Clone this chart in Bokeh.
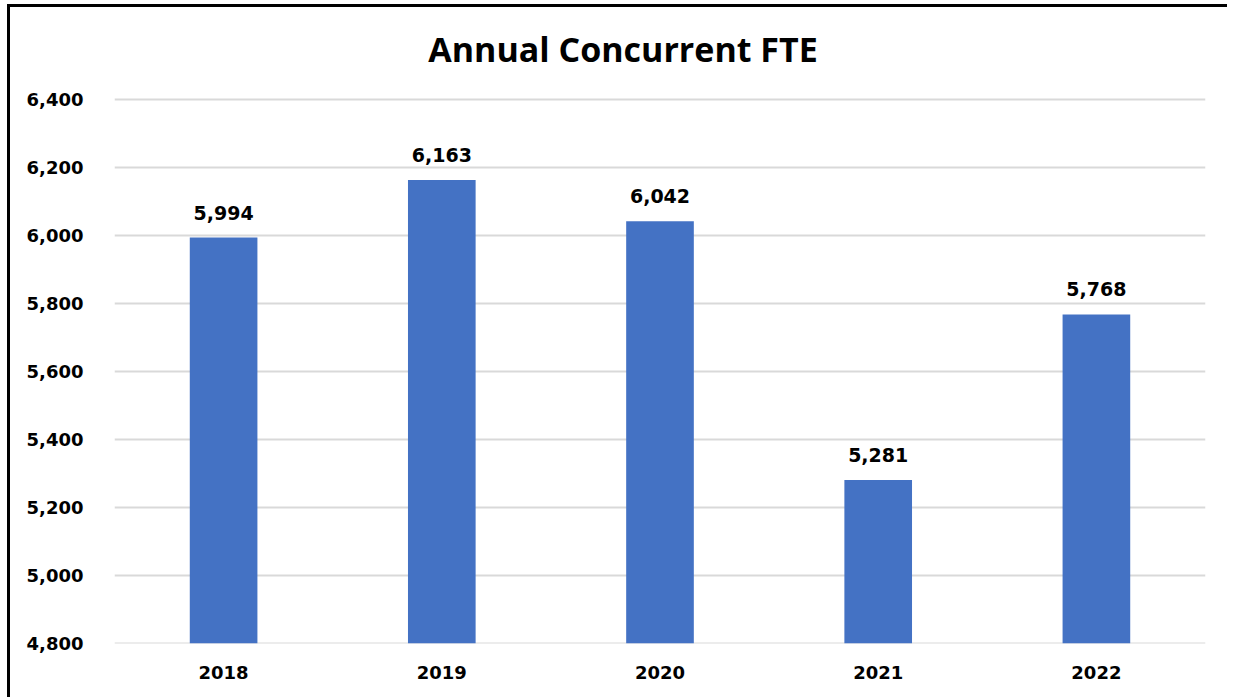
from bokeh.plotting import figure
from bokeh.models import ColumnDataSource, FixedTicker, NumeralTickFormatter, LabelSet, Label, Range1d, FactorRange
from bokeh.core.properties import value
from bokeh.embed import file_html
from bokeh.resources import INLINE

years = ["2018", "2019", "2020", "2021", "2022"]
fte = [5994, 6163, 6042, 5281, 5768]
labels = ["5,994", "6,163", "6,042", "5,281", "5,768"]
y_ticks = [4800, 5000, 5200, 5400, 5600, 5800, 6000, 6200, 6400]
title_text = "Annual Concurrent FTE"

# layout: frame spans the full canvas height above the x axis; the axis range
# is extended above the top tick so the title can sit inside the frame
H, BOTTOM, TOP_GAP = 693, 57, 92
y_lo, y_hi = y_ticks[0], y_ticks[-1]
frame_h = H - BOTTOM
y_end = y_lo + (y_hi - y_lo) * frame_h / (frame_h - TOP_GAP)

src = ColumnDataSource(dict(year=years, fte=fte, label=labels))

p = figure(x_range=FactorRange(*years), y_range=Range1d(y_lo, y_end),
           width=1220, height=H, output_backend="svg", toolbar_location=None,
           min_border_left=104, min_border_right=25, min_border_top=0, min_border_bottom=BOTTOM)
p.styles = {"border-left": "3px solid black", "border-top": "3px solid black",
            "margin-left": "7px", "margin-top": "4px"}
p.outline_line_color = None
p.background_fill_color = "white"
p.border_fill_color = "white"

p.hspan(y=y_ticks, line_color="#d9d9d9", line_width=2)

p.vbar(x="year", top="fte", bottom=y_lo, width=0.31, source=src,
       fill_color="#4472C4", line_color=None)

p.xgrid.grid_line_color = None
p.ygrid.grid_line_color = None

p.yaxis.ticker = FixedTicker(ticks=y_ticks)
p.yaxis.formatter = NumeralTickFormatter(format="0,0")
p.yaxis.axis_line_color = None
p.yaxis.major_tick_line_color = None
p.yaxis.minor_tick_line_color = None
p.yaxis.major_label_text_font = "DejaVu Sans"
p.yaxis.major_label_text_font_style = "bold"
p.yaxis.major_label_text_font_size = "18px"
p.yaxis.major_label_text_color = "black"
p.yaxis.major_label_standoff = 25

p.xaxis.axis_line_color = None
p.xaxis.major_tick_line_color = None
p.xaxis.minor_tick_line_color = None
p.xaxis.major_label_text_font = "DejaVu Sans"
p.xaxis.major_label_text_font_style = "bold"
p.xaxis.major_label_text_font_size = "18px"
p.xaxis.major_label_text_color = "black"
p.xaxis.major_label_standoff = 16

ls = LabelSet(x="year", y="fte", text="label", source=src, text_align="center",
              text_baseline="alphabetic", y_offset=18, text_font=value("DejaVu Sans"),
              text_font_style="bold", text_font_size="19px", text_color="black")
p.add_layout(ls)

title = Label(x=2.5, y=y_hi, x_offset=-37, y_offset=51, text=title_text,
              text_align="center", text_baseline="middle", text_font="Open Sans",
              text_font_style="bold", text_font_size="34px", text_color="black")
p.add_layout(title)

open("out.html", "w").write(file_html(p, INLINE))
